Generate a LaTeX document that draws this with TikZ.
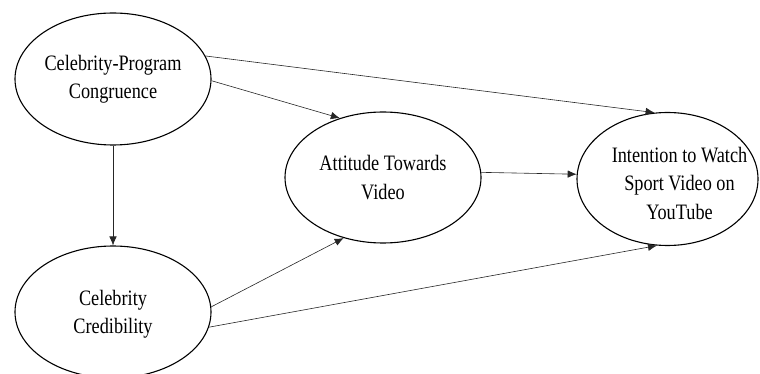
\documentclass[tikz,border=0pt]{standalone}
\usepackage{fontspec}
\setmainfont{Liberation Serif}[FakeStretch=0.83]
\usetikzlibrary{shapes.geometric,arrows.meta}
\begin{document}
\begin{tikzpicture}[x=1pt,y=-1pt,
  oval/.style={ellipse, draw, line width=1.1pt, inner sep=0pt},
  lbl/.style={align=center, inner sep=0pt, font=\fontsize{22}{28.5}\selectfont},
  conn/.style={-{Latex[length=9pt,width=7.5pt]}, line width=0.6pt, draw=black!85}]
\useasboundingbox (0,0) rectangle (760,374);
\node[oval, minimum width=196pt, minimum height=132pt] (e1) at (113,79) {};
\node[lbl] (t1) at (e1.center) {Celebrity-Program\\Congruence};
\node[oval, minimum width=196pt, minimum height=132pt] (e2) at (113,312) {};
\node[lbl] (t2) at ([yshift=-2pt]e2.center) {Celebrity\\Credibility};
\node[oval, minimum width=196pt, minimum height=131pt] (e3) at (383,177.5) {};
\node[lbl] (t3) at (e3.center) {Attitude Towards\\Video};
\node[oval, minimum width=181pt, minimum height=133pt] (e4) at (667.5,179) {};
\node[lbl] (t4) at ([xshift=12pt,yshift=-4pt]e4.center) {Intention to Watch\\Sport Video on\\YouTube};
\draw[conn] (e1.south) -- (e2.north);
\draw[conn] (e1.-1) -- (e3.126.8);
\draw[conn] (e1.14.6) -- (e4.101.8);
\draw[conn] (e2.3) -- (e3.237.4);
\draw[conn] (e2.-9) -- (e4.261.4);
\draw[conn] (e3.3) -- (e4.177.5);
\end{tikzpicture}
\end{document}
